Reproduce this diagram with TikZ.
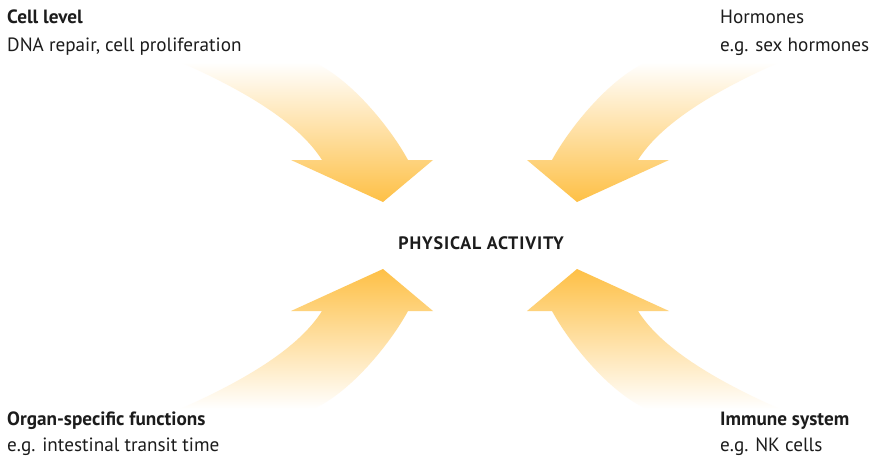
\documentclass[tikz,border=0pt]{standalone}
\usepackage{fontspec}
\setmainfont{PT Sans}
\definecolor{arrowor}{RGB}{254,192,70}
\definecolor{txt}{RGB}{28,28,28}
\def\arrowshape{(180,62) -- (313,62) .. controls (350,78) and (390,127) .. (408,160) -- (433,160) -- (383,202) -- (291,160) -- (322,160) .. controls (300,125) and (250,93) .. (180,62) -- cycle}
\tikzset{
  lbl/.style={inner sep=0pt, text=txt, font=\fontsize{19.2}{22}\selectfont},
  lblb/.style={lbl, font=\fontsize{19.2}{22}\selectfont\bfseries},
  ctr/.style={inner sep=0pt, text=txt, font=\fontsize{18}{20}\selectfont\bfseries\addfontfeatures{LetterSpace=5}},
}
\begin{document}
\begin{tikzpicture}[x=1pt,y=-1pt]
\useasboundingbox[fill=white] (0,0) rectangle (870,456);
% arrows
\shade[top color=white, bottom color=arrowor] \arrowshape;
\begin{scope}[shift={(960,0)}, xscale=-1]
  \shade[top color=white, bottom color=arrowor] \arrowshape;
\end{scope}
\begin{scope}[shift={(0,471)}, yscale=-1]
  \shade[top color=arrowor, bottom color=white] \arrowshape;
\end{scope}
\begin{scope}[shift={(960,471)}, xscale=-1, yscale=-1]
  \shade[top color=arrowor, bottom color=white] \arrowshape;
\end{scope}
% texts
\node[lblb, anchor=base west] (cell) at (7,23) {Cell level};
\node[lbl, anchor=base west] (cellsub) at (7,51) {DNA repair, cell proliferation};
\node[lbl, anchor=base west] (horm) at (720,23) {Hormones};
\node[lbl, anchor=base west] (hormsub) at (720,51) {e.g. sex hormones};
\node[lblb, anchor=base west] (organ) at (7,425) {Organ-specific functions};
\node[lbl, anchor=base west] (organsub) at (7,451) {e.g. intestinal transit time};
\node[lblb, anchor=base west] (imm) at (720,425) {Immune system};
\node[lbl, anchor=base west] (immsub) at (720,451) {e.g. NK cells};
\node[ctr, anchor=base] (pa) at (481,249) {PHYSICAL ACTIVITY};
\end{tikzpicture}
\end{document}
